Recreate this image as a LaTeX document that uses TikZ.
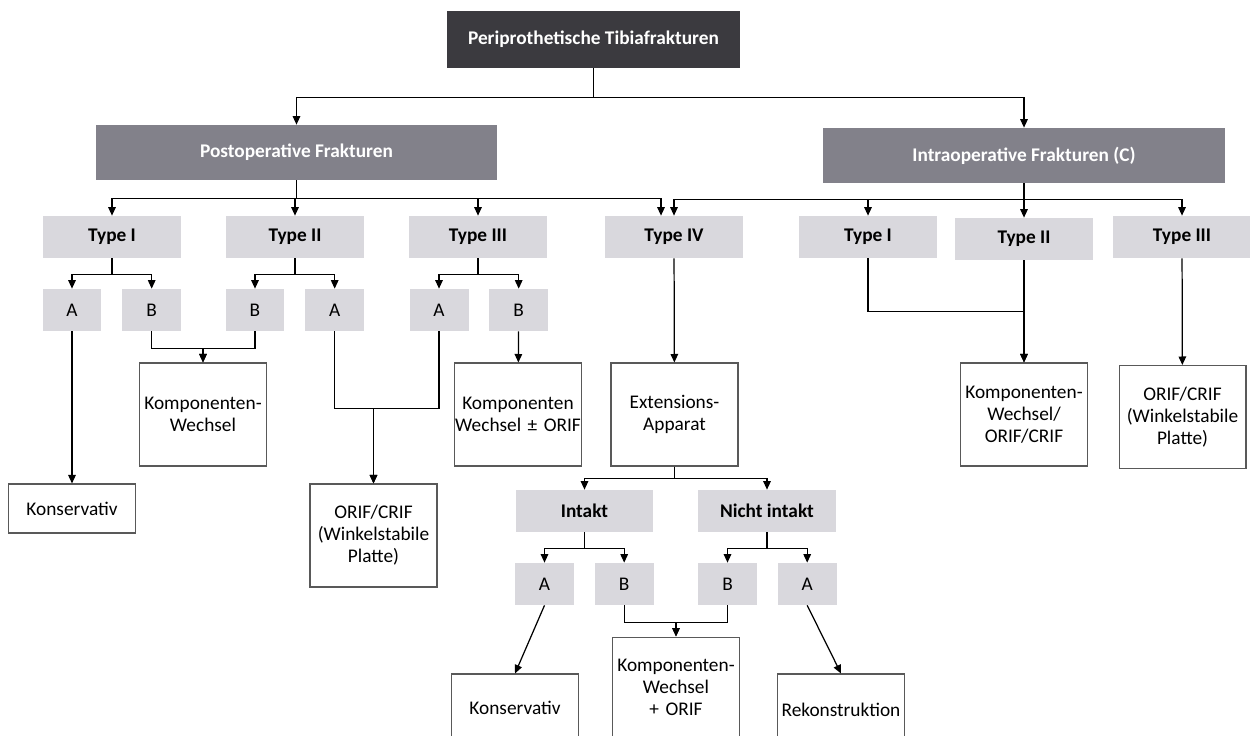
\documentclass[tikz,border=0pt]{standalone}
\usepackage{fontspec}
\setmainfont{Carlito}
\usetikzlibrary{arrows.meta, positioning}

\definecolor{rootgray}{HTML}{3B3A3F}
\definecolor{groupgray}{HTML}{82818A}
\definecolor{typegray}{HTML}{D9D8DD}
\newcommand{\boxfont}{\fontsize{11}{12.5}\selectfont}

\begin{document}
\begin{tikzpicture}[
    x=0.02cm, y=-0.02cm,
    root/.style={rectangle, fill=rootgray, text=white, minimum width=5.86cm, minimum height=1.14cm, font=\boxfont\bfseries},
    group/.style={rectangle, fill=groupgray, text=white, minimum width=8.03cm, minimum height=1.1cm, font=\boxfont\bfseries},
    typebox/.style={rectangle, fill=typegray, minimum width=2.76cm, minimum height=0.84cm, font=\boxfont\bfseries},
    sub/.style={rectangle, fill=typegray, minimum width=1.18cm, minimum height=0.84cm, font=\boxfont},
    result/.style={rectangle, draw=black!65, line width=0.6pt, fill=white, minimum width=2.54cm, minimum height=2.06cm, inner xsep=0.05cm, text width=2.44cm, align=center, font=\boxfont},
    arrow/.style={-{Triangle[length=1.7mm, width=1.5mm]}, line width=0.7pt},
    link/.style={line width=0.7pt}
]
\useasboundingbox (0,0) rectangle (1250,735);

% --- Top ---
\node (root) [root] at (593.5,39.5) {Periprothetische Tibiafrakturen};
\node (postop) [group] at (296.5,152.5) {Postoperative Frakturen};
\node (intra) [group] at (1024,155.5) {Intraoperative Frakturen (C)};

% --- Types ---
\node (p1) [typebox] at (112,237) {Type I};
\node (p2) [typebox] at (295,237) {Type II};
\node (p3) [typebox] at (478,237) {Type III};
\node (p4) [typebox] at (674,237) {Type IV};
\node (i1) [typebox] at (868,237) {Type I};
\node (i2) [typebox] at (1024,239) {Type II};
\node (i3) [typebox] at (1182,237) {Type III};

% --- A / B (postoperative) ---
\node (p1a) [sub] at (72,310) {A};
\node (p1b) [sub, right=0.4cm of p1a] {B};
\node (p2b) [sub] at (255,310) {B};
\node (p2a) [sub, right=0.4cm of p2b] {A};
\node (p3a) [sub] at (439,310) {A};
\node (p3b) [sub, right=0.4cm of p3a] {B};

% --- Therapy ---
\node (kons1) [result, minimum height=0.98cm] at (72,508.5) {Konservativ};
\node (kw1) [result] at (203,414.5) {Komponenten-\\Wechsel};
\node (orif1) [result] at (373.5,535.5) {ORIF/CRIF\\(Winkelstabile\\Platte)};
\node (kw2) [result] at (518,414.5) {Komponenten\\\makebox[\linewidth]{Wechsel ± ORIF}};
\node (ext) [result] at (674.5,414.5) {Extensions-\\Apparat};
\node (kw3) [result] at (1024,414.5) {Komponenten-\\Wechsel/\\ORIF/CRIF};
\node (orif2) [result] at (1182.5,417) {ORIF/CRIF\\(Winkelstabile\\Platte)};

% --- Extensionsapparat ---
\node (intakt) [typebox] at (584.5,511) {Intakt};
\node (nicht) [typebox] at (767,511) {Nicht intakt};
\node (ia) [sub] at (544.5,584) {A};
\node (ib) [sub, right=0.4cm of ia] {B};
\node (nb) [sub] at (727.5,584) {B};
\node (na) [sub, right=0.4cm of nb] {A};
\node (kons2) [result, minimum height=1.36cm] at (515,708) {Konservativ};
\node (kw4) [result, minimum height=2.0cm] at (676,687) {Komponenten-\\Wechsel\\+ ORIF};
\node (rek) [result, minimum height=1.44cm] at (841,710) {Rekonstruktion};

% --- Arrows ---
\draw [arrow] (root.south) -- ++(0,29) -| (postop.north);
\draw [arrow] (root.south) -- ++(0,29) -| (intra.north);

\foreach \t in {p1,p2,p3}
  \draw [arrow] (postop.south) -- ++(0,18) -| (\t.north);
\draw [arrow] (postop.south) -- ++(0,18) -| ([xshift=-0.26cm]p4.north);
\foreach \t in {p4,i1,i2,i3}
  \draw [arrow] (intra.south) -- ++(0,16) -| (\t.north);

% Types -> A/B
\draw [arrow] (p1.south) -- ++(0,16) -| (p1a.north);
\draw [arrow] (p1.south) -- ++(0,16) -| (p1b.north);
\draw [arrow] (p2.south) -- ++(0,16) -| (p2b.north);
\draw [arrow] (p2.south) -- ++(0,16) -| (p2a.north);
\draw [arrow] (p3.south) -- ++(0,16) -| (p3a.north);
\draw [arrow] (p3.south) -- ++(0,16) -| (p3b.north);

% A/B -> therapy
\draw [arrow] (p1a) -- (kons1);
\draw [arrow] (p1b.south) -- ++(0,17) -| (kw1.north);
\draw [arrow] (p2b.south) -- ++(0,17) -| (kw1.north);
\draw [arrow] (p2a.south) -- ++(0,77) -| (orif1.north);
\draw [arrow] (p3a.south) -- ++(0,77) -| (orif1.north);
\draw [arrow] (p3b) -- (kw2);
\draw [arrow] (p4) -- (ext);
\draw [arrow] (i1.south) -- ++(0,53) -| (kw3.north);
\draw [arrow] (i2) -- (kw3);
\draw [arrow] (i3) -- (orif2);

% Extensionsapparat
\draw [arrow] (ext.south) -- ++(0,12) -| (intakt.north);
\draw [arrow] (ext.south) -- ++(0,12) -| (nicht.north);
\draw [arrow] (intakt.south) -- ++(0,16) -| (ia.north);
\draw [arrow] (intakt.south) -- ++(0,16) -| (ib.north);
\draw [arrow] (nicht.south) -- ++(0,16) -| (nb.north);
\draw [arrow] (nicht.south) -- ++(0,16) -| (na.north);
\draw [arrow] (ia.south) -- (kons2.north);
\draw [arrow] (na.south) -- (rek.north);
\draw [arrow] (ib.south) -- ++(0,17) -| (kw4.north);
\draw [arrow] (nb.south) -- ++(0,17) -| (kw4.north);

\end{tikzpicture}
\end{document}
